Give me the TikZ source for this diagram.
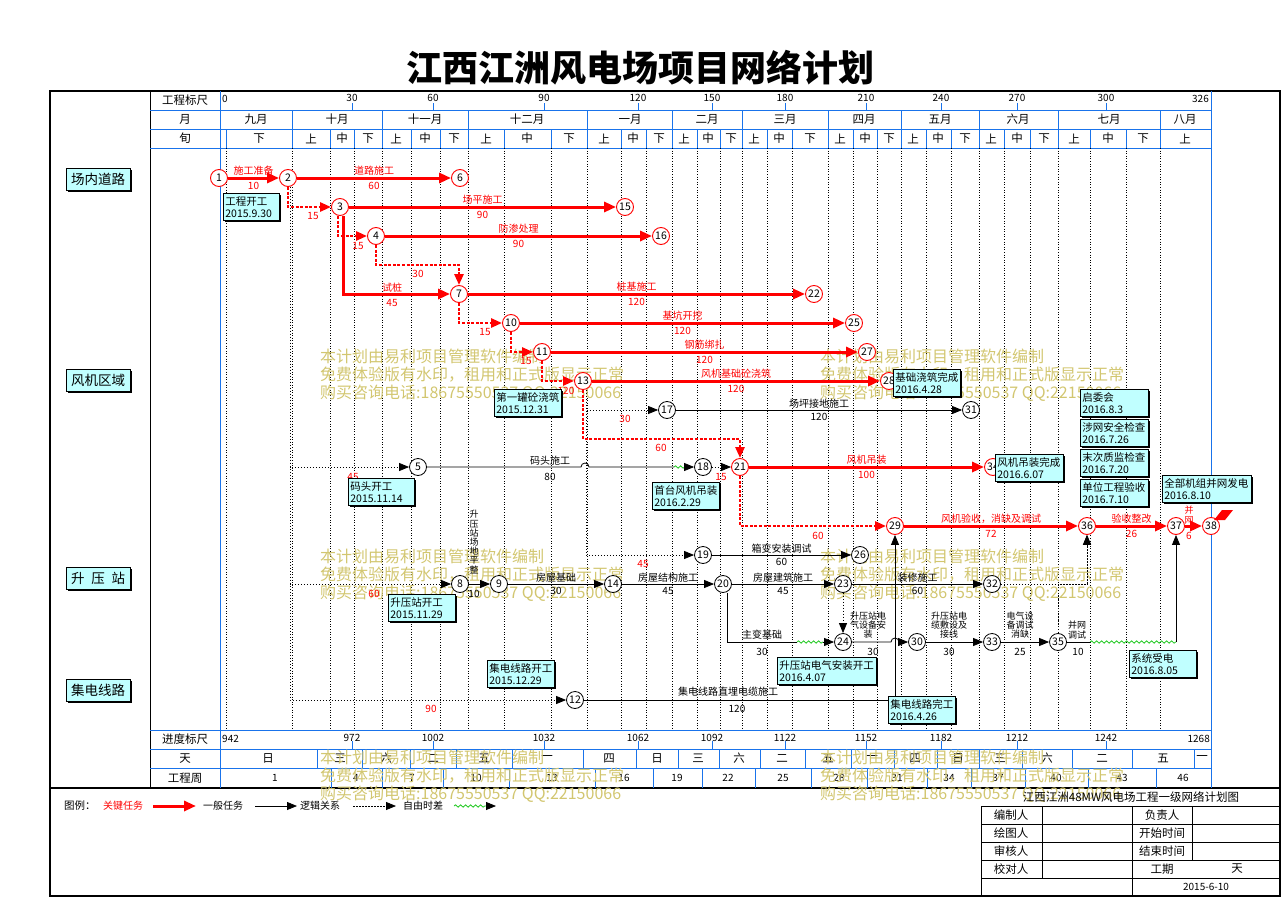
\documentclass[tikz,border=0pt]{standalone}
\usepackage{fontspec}
\setmainfont{Noto Sans CJK SC}
\usetikzlibrary{
	arrows.meta,
	decorations.pathmorphing,
	shadows,
	positioning,
	calc,
}
\definecolor{critred}{RGB}{255,0,0}
\definecolor{rulerblue}{RGB}{25,115,235}
\definecolor{notecyan}{RGB}{192,255,255}
\definecolor{markkhaki}{RGB}{210,198,112}
\definecolor{floatgreen}{RGB}{30,200,30}
\tikzset{critnode/.style={
		% The shape:
		circle,
		% The size:
		minimum size=17pt,inner sep=0pt,
		% The border: red for events on the critical path
		draw=critred,line width=0.9pt,fill=white,
		font=\fontsize{10.5}{10.5}\selectfont,
}}
\tikzset{worknode/.style={
		% The shape:
		circle,
		% The size:
		minimum size=17pt,inner sep=0pt,
		% The rest
		draw=black,line width=0.8pt,fill=white,
		font=\fontsize{10.5}{10.5}\selectfont,
}}
\tikzset{notebox/.style={
		% The shape:
		rectangle,anchor=north west,
		% The size:
		text width=#1,minimum height=27pt,inner xsep=2pt,inner ysep=2pt,
		% The rest
		draw=black,line width=0.7pt,fill=notecyan,
		drop shadow={shadow xshift=1.6pt,shadow yshift=-1.6pt,fill=black,opacity=1},
		align=left,font=\fontsize{10.5}{12}\selectfont,
}}
\tikzset{areabox/.style={
		% The shape:
		rectangle,
		% The size:
		minimum width=64pt,minimum height=22pt,
		% The rest
		draw=black,line width=0.8pt,fill=notecyan,
		drop shadow={shadow xshift=1.8pt,shadow yshift=-1.8pt,fill=black,opacity=1},
		font=\fontsize{13.5}{13.5}\selectfont,
}}
\tikzset{critlab/.style={text=critred,inner sep=1pt,font=\fontsize{10}{10}\selectfont}}
\tikzset{worklab/.style={text=black,inner sep=1pt,font=\fontsize{10}{10}\selectfont}}
\tikzset{stacklab/.style={inner sep=0pt,align=center,font=\fontsize{9}{9.2}\selectfont}}
\tikzset{critline/.style={draw=critred,line width=3pt,-{Triangle[length=12pt,width=10pt]}}}
\tikzset{critfloat/.style={draw=critred,line width=2.6pt,dash pattern=on 3pt off 1.6pt,-{Triangle[length=11pt,width=9pt]}}}
\tikzset{worklink/.style={draw=black,line width=0.8pt}}
\tikzset{workline/.style={worklink,-{Triangle[length=10pt,width=8pt]}}}
\tikzset{logicline/.style={draw=black,line width=0.8pt,dash pattern=on 1.5pt off 1.5pt,-{Triangle[length=10pt,width=8pt]}}}
\tikzset{waveline/.style={draw=floatgreen,line width=0.8pt,decorate,decoration={snake,amplitude=1.2pt,segment length=5pt}}}
\tikzset{rulerline/.style={draw=rulerblue,line width=0.9pt}}
\tikzset{gridline/.style={draw=black,line width=0.6pt,dash pattern=on 1pt off 1.6pt}}
\tikzset{headtext/.style={inner sep=0pt,font=\fontsize{11.5}{11.5}\selectfont}}
\tikzset{marktext/.style={text=markkhaki,anchor=north west,align=left,inner sep=0pt,font=\fontsize{16}{18}\selectfont}}

\begin{document}
\begin{tikzpicture}[x=1pt,y=-1pt]
	\useasboundingbox (0,0) rectangle (1283,899);
	\node[font=\fontsize{36}{36}\selectfont\bfseries] (title) at (640,68) {江西江洲风电场项目网络计划};
	% frame and rulers
	\draw[line width=1.2pt] (50,91) rectangle (1280,896);
	\draw[line width=2.6pt] (50,91) -- (1280,91);
	\draw[line width=2pt] (50,788) -- (1280,788);
	\draw[line width=0.8pt] (150,91) -- (150,788);
	\draw[rulerline] (220,91) -- (220,788);
	\draw[rulerline] (1211,91) -- (1211,788);
	\foreach \ry in {110,129,148,730,749,768}
		\draw[rulerline] (150,\ry) -- (1211,\ry);
	\foreach \mx in {292,382,468,587,672,742,828,901,979,1058,1160}
		\draw[rulerline] (\mx,110) -- (\mx,148);
	\foreach \dx in {226,330,354,411,440,504,551,621,646,697,720,767,792,853,877,926,951,1004,1030,1090,1126}
		\draw[rulerline] (\dx,129) -- (\dx,148);
	\foreach \gx in {226,292,330,354,382,411,440,468,504,551,587,621,646,672,697,720,742,767,792,828,853,877,901,926,951,979,1004,1030,1058,1090,1126,1160}
		\draw[gridline] (\gx,148) -- (\gx,730);
	\node[headtext] (hscale) at (185,100) {工程标尺};
	\node[headtext] (hmonth) at (185,119.5) {月};
	\node[headtext] (hxun) at (185,138.5) {旬};
	\node[headtext,font=\fontsize{10}{10}\selectfont,anchor=west] (top0) at (222,99) {0};
	\node[headtext,font=\fontsize{10}{10}\selectfont,anchor=east] (top326) at (1209,99) {326};
	\foreach \tx/\tv in {352/30,433/60,544/90,638/120,712/150,785/180,866/210,941/240,1017/270,1106/300}{
		\draw[rulerline] (\tx,103) -- (\tx,110);
		\node[headtext,font=\fontsize{10}{10}\selectfont] (top\tv) at (\tx,98) {\tv};
	}
	\foreach \mx/\mname in {256/九月,337/十月,425/十一月,527/十二月,630/一月,707/二月,785/三月,864/四月,940/五月,1018/六月,1109/七月,1185/八月}
		\node[headtext] (mon\mx) at (\mx,119.5) {\mname};
	\foreach \dx/\dname in {259/下,311/上,342/中,368/下,396/上,425/中,454/下,486/上,527/中,569/下,604/上,633/中,659/下,684/上,708/中,731/下,754/上,779/中,810/下,840/上,865/中,889/下,913/上,938/中,965/下,991/上,1017/中,1044/下,1074/上,1108/中,1143/下,1185/上}
		\node[headtext] (xun\dx) at (\dx,138.5) {\dname};
	% bottom rulers
	\node[headtext] (bscale) at (185,739.5) {进度标尺};
	\node[headtext] (bday) at (185,758.5) {天};
	\node[headtext] (bweek) at (185,778) {工程周};
	\node[headtext,font=\fontsize{10}{10}\selectfont,anchor=west] (bot942) at (222,739) {942};
	\node[headtext,font=\fontsize{10}{10}\selectfont,anchor=east] (bot1268) at (1210,739) {1268};
	\foreach \tx/\tv in {352/972,433/1002,544/1032,638/1062,712/1092,785/1122,866/1152,941/1182,1017/1212,1106/1242}{
		\draw[rulerline] (\tx,741) -- (\tx,749);
		\node[headtext,font=\fontsize{10}{10}\selectfont] (bot\tv) at (\tx,738) {\tv};
	}
	\foreach \bx in {317,362,410,456,512,583,636,678,719,760,805,851,894,937,979,1022,1072,1132,1194}
		\draw[rulerline] (\bx,749) -- (\bx,768);
	\foreach \bx/\bname [count=\bi] in {268/日,340/三,386/六,433/二,484/五,547/一,609/四,657/日,698/三,739/六,782/二,828/五,872/一,915/四,958/日,1000/三,1047/六,1102/二,1163/五,1202/一}
		\node[headtext] (wday\bi) at (\bx,758.5) {\bname};
	\foreach \bx in {331,382,443,509,595,653,702,755,811,867,927,971,1025,1088,1156}
		\draw[rulerline] (\bx,768) -- (\bx,788);
	\foreach \bx/\bnum in {275/1,356/4,412/7,476/10,552/13,624/16,677/19,728/22,783/25,839/28,897/31,949/34,998/37,1056/40,1122/43,1183/46}
		\node[headtext,font=\fontsize{10}{10}\selectfont] (week\bnum) at (\bx,778) {\bnum};
	% zone labels
	\node[areabox] (zone1) at (98,179) {场内道路};
	\node[areabox] (zone2) at (98,380) {风机区域};
	\node[areabox] (zone3) at (98,578) {升\hspace{0.5em}压\hspace{0.5em}站};
	\node[areabox] (zone4) at (98,690) {集电线路};
	% watermark
	\foreach \wx/\wy [count=\wi] in {320/349,820/349,320/549,820/549,320/750,820/750}
		\node[marktext] (mark\wi) at (\wx,\wy) {本计划由易利项目管理软件编制\\免费体验版有水印，租用和正式版显示正常\\购买咨询电话:18675550537 QQ:22150066};
	% events
	\node[critnode] (n1) at (219,178) {1};
	\node[critnode] (n2) at (288,178) {2};
	\node[critnode] (n6) at (460,178) {6};
	\node[critnode] (n3) at (340,207) {3};
	\node[critnode] (n15) at (625,207) {15};
	\node[critnode] (n4) at (376,236) {4};
	\node[critnode] (n16) at (661,236) {16};
	\node[critnode] (n7) at (459,294) {7};
	\node[critnode] (n22) at (814,294) {22};
	\node[critnode] (n10) at (511,323) {10};
	\node[critnode] (n25) at (854,323) {25};
	\node[critnode] (n11) at (542,352) {11};
	\node[critnode] (n27) at (867,352) {27};
	\node[critnode] (n13) at (583,381) {13};
	\node[critnode] (n28) at (889,381) {28};
	\node[worknode] (n17) at (667,410) {17};
	\node[worknode] (n31) at (971,410) {31};
	\node[worknode] (n5) at (418,467) {5};
	\node[worknode] (n18) at (703,467) {18};
	\node[critnode] (n21) at (740,467) {21};
	\node[critnode] (n34) at (993,467) {34};
	\node[critnode] (n29) at (895,526) {29};
	\node[critnode] (n36) at (1087,526) {36};
	\node[critnode] (n37) at (1176,526) {37};
	\node[critnode] (n38) at (1211,526) {38};
	\node[worknode] (n19) at (703,555) {19};
	\node[worknode] (n26) at (860,555) {26};
	\node[worknode] (n8) at (460,584) {8};
	\node[worknode] (n9) at (499,584) {9};
	\node[worknode] (n14) at (613,584) {14};
	\node[worknode] (n20) at (723,584) {20};
	\node[worknode] (n23) at (843,584) {23};
	\node[worknode] (n32) at (992,584) {32};
	\node[worknode] (n24) at (843,642) {24};
	\node[worknode] (n30) at (917,642) {30};
	\node[worknode] (n33) at (992,642) {33};
	\node[worknode] (n35) at (1058,642) {35};
	\node[worknode] (n12) at (575,700) {12};
	\coordinate (w18a) at (674,467);
	\coordinate (w18b) at (685,467);
	\coordinate (w24a) at (797,642);
	\coordinate (w24b) at (823,642);
	\coordinate (w37a) at (1090,642);
	\coordinate (w37b) at (1176,642);
	% logic links
	\draw[logicline] ([xshift=2pt]n2.south) |- (n5);
	\draw[logicline] ([xshift=2pt]n2.south) |- (n8);
	\draw[logicline] ([xshift=2pt]n2.south) |- (n12);
	\draw[logicline] ([xshift=3pt]n13.south) |- (n17);
	\draw[logicline] ([xshift=3pt]n13.south) |- (n19);
	\draw[logicline] (n18) -- (n21);
	\draw[logicline] (n23) -- (n24);
	\draw[logicline] (n32) -| (n36);
	\draw[logicline] (n35) -- (n35 |- n32) -| (n36);
	% ordinary tasks
	\draw[worklink] (n5) -- (581,467) arc[start angle=180,end angle=0,radius=4pt] -- (w18a);
	\draw[waveline] (w18a) -- (w18b);
	\draw[workline] (w18b) -- (n18);
	\draw[workline] (n17) -- node[worklab,above] (t17) {场坪接地施工} node[worklab,below=2pt] (d17) {120} (n31);
	\draw[workline] (n8) -- (n9);
	\draw[workline] (n9) -- node[worklab,above] (t9) {房屋基础} node[worklab,below=2pt] (d9) {30} (n14);
	\draw[workline] (n14) -- node[worklab,above] (t14) {房屋结构施工} node[worklab,below=2pt] (d14) {45} (n20);
	\draw[workline] (n19) -- node[worklab,above] (t19) {箱变安装调试} node[worklab,below=2pt] (d19) {60} (n26);
	\draw[workline] (n20) -- node[worklab,above] (t20) {房屋建筑施工} node[worklab,below=2pt] (d20) {45} (n23);
	\draw[workline] (n23) -- node[worklab,above] (t23) {装修施工} node[worklab,below=2pt] (d23) {60} (n32);
	\draw[worklink] ([xshift=4pt]n20.south) |- (w24a);
	\draw[waveline] (w24a) -- (w24b);
	\draw[workline] (w24b) -- (n24);
	\draw[workline] (n24) -- (891,642) arc[start angle=180,end angle=0,radius=4pt] -- (n30);
	\draw[workline] (n30) -- (n33);
	\draw[workline] (n33) -- (n35);
	\draw[worklink] (n35) -- (w37a);
	\draw[waveline] (w37a) -- (w37b);
	\draw[workline] (w37b) -- (n37);
	\draw[workline] (n12) -| (n29);
	\node[worklab] (t5) at (550,461) {码头施工};
	\node[worklab] (d5) at (550,477) {80};
	\node[stacklab] (t8) at (474,542) {升\\压\\站\\场\\地\\平\\整};
	\node[worklab] (d8) at (474,594) {10};
	\node[worklab] (t20b) at (762,635) {主变基础};
	\node[worklab] (d20b) at (762,652) {30};
	\node[stacklab] (t24) at (868,625) {升压站电\\气设备安\\装};
	\node[worklab] (d24) at (873,652) {30};
	\node[stacklab] (t30) at (949,625) {升压站电\\缆敷设及\\接线};
	\node[worklab] (d30) at (949,652) {30};
	\node[stacklab] (t33) at (1020,625) {电气设\\备调试\\消缺};
	\node[worklab] (d33) at (1020,652) {25};
	\node[stacklab] (t35) at (1077,630) {并网\\调试};
	\node[worklab] (d35) at (1078,652) {10};
	\node[worklab] (t12) at (728,692) {集电线路直埋电缆施工};
	\node[worklab] (d12) at (737,709) {120};
	% free floats on logic links
	\node[critlab] (f5) at (353,477) {45};
	\node[critlab] (f8) at (374,594) {60};
	\node[critlab] (f12) at (431,709) {90};
	\node[critlab] (f17) at (625,419) {30};
	\node[critlab] (f19) at (643,564) {45};
	\node[critlab] (f21) at (721,477) {15};
	% critical path
	\draw[critfloat] (n2) |- (n3);
	\draw[critfloat] ([xshift=-2pt]n3.south) |- (n4);
	\draw[critfloat] (n4) |- (459,265) -- (n7);
	\draw[critfloat] (n7) |- (n10);
	\draw[critfloat] (n10) |- (n11);
	\draw[critfloat] (n11) |- (n13);
	\draw[critfloat] (n13) |- (740,439) -- (n21);
	\draw[critfloat] (n21) |- (n29);
	\draw[critline] (n1) -- node[critlab,above] (t1) {施工准备} node[critlab,below=2pt] (d1) {10} (n2);
	\draw[critline] (n2) -- node[critlab,above] (t2) {道路施工} node[critlab,below=2pt] (d2) {60} (n6);
	\draw[critline] (n3) -- node[critlab,above] (t3) {场平施工} node[critlab,below=2pt] (d3) {90} (n15);
	\draw[critline] (n4) -- node[critlab,above] (t4) {防渗处理} node[critlab,below=2pt] (d4) {90} (n16);
	\draw[critline] ([xshift=3pt]n3.south) |- (n7);
	\draw[critline] (n7) -- node[critlab,above] (t7) {桩基施工} node[critlab,below=2pt] (d7) {120} (n22);
	\draw[critline] (n10) -- node[critlab,above] (t10) {基坑开挖} node[critlab,below=2pt] (d10) {120} (n25);
	\draw[critline] (n11) -- node[critlab,above] (t11) {钢筋绑扎} node[critlab,below=2pt] (d11) {120} (n27);
	\draw[critline] (n13) -- node[critlab,above] (t13) {风机基础砼浇筑} node[critlab,below=2pt] (d13) {120} (n28);
	\draw[critline] (n21) -- node[critlab,above] (t21) {风机吊装} node[critlab,below=2pt] (d21) {100} (n34);
	\draw[critline] (n29) -- node[critlab,above] (t29) {风机验收，消缺及调试} node[critlab,below=2pt] (d29) {72} (n36);
	\draw[critline] (n36) -- node[critlab,above] (t36) {验收整改} node[critlab,below=2pt] (d36) {26} (n37);
	\draw[critline] (n37) -- (n38);
	\fill[critred] (1214,520) -- (1222,510) -- (1233,510) -- (1225,520) -- cycle;
	\node[critlab] (f3) at (313,216) {15};
	\node[critlab] (f4) at (358,246) {15};
	\node[critlab] (f7) at (418,274) {30};
	\node[critlab] (t3b) at (392,288) {试桩};
	\node[critlab] (d3b) at (392,303) {45};
	\node[critlab] (f10) at (485,332) {15};
	\node[critlab] (f11) at (526,361) {15};
	\node[critlab] (f13) at (566,391) {120};
	\node[critlab] (f21b) at (661,448) {60};
	\node[critlab] (f29) at (818,536) {60};
	\node[stacklab,text=critred] (t37) at (1189,515) {并\\网};
	\node[critlab] (d37) at (1189,536) {6};
	% notes
	\node[notebox=52pt] (b1) at (223,193) {工程开工\\2015.9.30};
	\node[notebox=63pt] (b2) at (494,389) {第一罐砼浇筑\\2015.12.31};
	\node[notebox=62pt] (b3) at (348,478) {码头开工\\2015.11.14};
	\node[notebox=63pt] (b4) at (652,482) {首台风机吊装\\2016.2.29};
	\node[notebox=63pt] (b5) at (388,594) {升压站开工\\2015.11.29};
	\node[notebox=63pt] (b6) at (487,660) {集电线路开工\\2015.12.29};
	\node[notebox=63pt] (b7) at (893,369) {基础浇筑完成\\2016.4.28};
	\node[notebox=64pt] (b8) at (1080,389) {启委会\\2016.8.3};
	\node[notebox=64pt] (b9) at (1080,419) {涉网安全检查\\2016.7.26};
	\node[notebox=64pt] (b10) at (1080,449) {末次质监检查\\2016.7.20};
	\node[notebox=64pt] (b11) at (1080,479) {单位工程验收\\2016.7.10};
	\node[notebox=64pt] (b12) at (995,454) {风机吊装完成\\2016.6.07};
	\node[notebox=85pt] (b13) at (1162,475) {全部机组并网发电\\2016.8.10};
	\node[notebox=95pt] (b14) at (777,657) {升压站电气安装开工\\2016.4.07};
	\node[notebox=63pt] (b15) at (888,696) {集电线路完工\\2016.4.26};
	\node[notebox=63pt] (b16) at (1129,650) {系统受电\\2016.8.05};
	% legend
	\node[worklab,anchor=west,font=\fontsize{10.5}{10.5}\selectfont] (lg0) at (63,806) {图例：};
	\node[critlab,font=\fontsize{10}{10}\selectfont] (lg1) at (123,806) {关键任务};
	\draw[critline] (153,806) -- (196,806);
	\node[worklab,font=\fontsize{10}{10}\selectfont] (lg2) at (223,806) {一般任务};
	\draw[workline] (255,806) -- (297,806);
	\node[worklab,font=\fontsize{10}{10}\selectfont] (lg3) at (320,806) {逻辑关系};
	\draw[logicline] (353,806) -- (396,806);
	\node[worklab,font=\fontsize{10}{10}\selectfont] (lg4) at (423,806) {自由时差};
	\draw[waveline] (454,806) -- (486,806);
	\draw[workline] (486,806) -- (496,806);
	% title block
	\node[headtext,font=\fontsize{11.5}{11.5}\selectfont] (tbname) at (1131,797) {江西江洲48MW风电场工程一级网络计划图};
	\draw[line width=0.8pt] (981,806) -- (1280,806);
	\foreach \ty in {824,842,860,878}
		\draw[line width=0.8pt] (981,\ty) -- (1280,\ty);
	\draw[line width=0.8pt] (981,806) -- (981,896);
	\draw[line width=0.8pt] (1042,806) -- (1042,878);
	\draw[line width=0.8pt] (1132,806) -- (1132,896);
	\draw[line width=0.8pt] (1192,806) -- (1192,860);
	\foreach \ty/\lname/\rname in {815/编制人/负责人,833/绘图人/开始时间,851/审核人/结束时间,869/校对人/工期}{
		\node[headtext] (tl\ty) at (1011,\ty) {\lname};
		\node[headtext] (tr\ty) at (1162,\ty) {\rname};
	}
	\node[headtext] (tbday) at (1237,869) {天};
	\node[headtext,font=\fontsize{10}{10}\selectfont] (tbdate) at (1206,887) {2015-6-10};
\end{tikzpicture}
\end{document}
